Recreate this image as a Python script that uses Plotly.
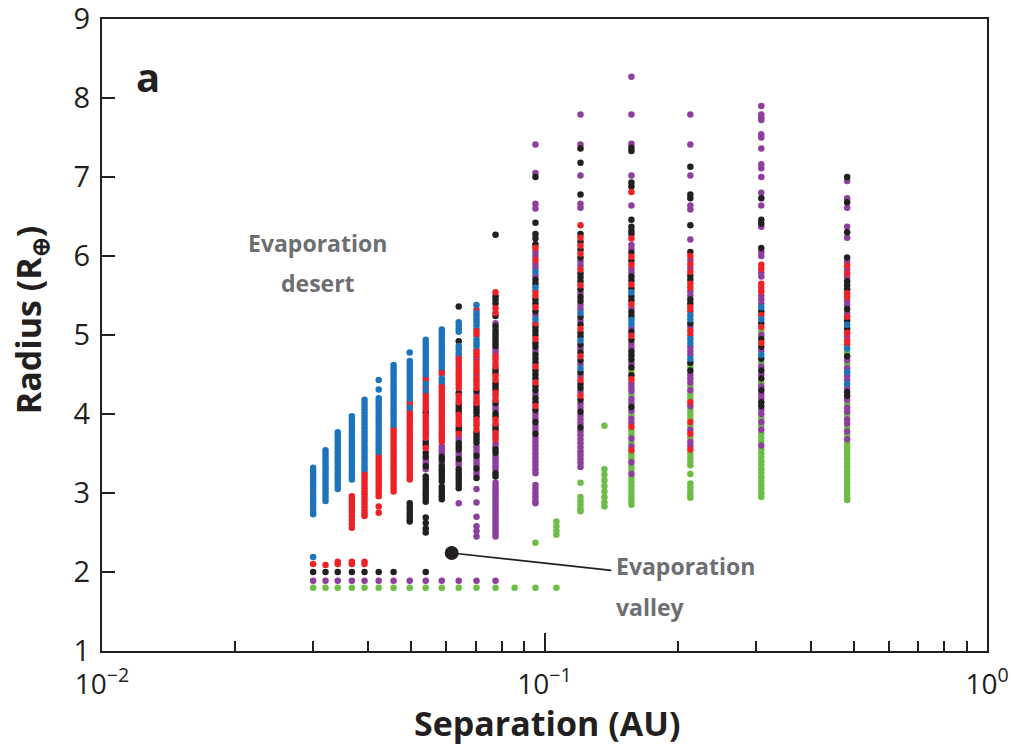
import plotly.graph_objects as go

# Orbital separations (AU) of the simulated columns
SEP = [0.0300, 0.0320, 0.0341, 0.0367, 0.0392, 0.0422, 0.0456, 0.0496, 0.0539, 0.0586, 0.0640,
       0.0702, 0.0775, 0.0856, 0.0954, 0.1064, 0.1206, 0.1366, 0.1572, 0.2136, 0.309, 0.483]

# Radii (Earth radii) per column, one list per colour
BLUE = [
    [3.32, 3.28, 3.24, 3.20, 3.16, 3.12, 3.08, 3.04, 3.00, 2.96, 2.92, 2.88, 2.84, 2.80, 2.76, 2.73, 2.19],
    [3.54, 3.50, 3.46, 3.42, 3.38, 3.34, 3.30, 3.26, 3.22, 3.18, 3.14, 3.10, 3.06, 3.02, 2.98, 2.94, 2.90],
    [3.77, 3.73, 3.69, 3.65, 3.61, 3.57, 3.53, 3.49, 3.45, 3.41, 3.37, 3.33, 3.29, 3.25, 3.21, 3.17, 3.13, 3.09, 3.05],
    [3.97, 3.93, 3.89, 3.85, 3.81, 3.77, 3.73, 3.69, 3.65, 3.61, 3.57, 3.53, 3.49, 3.45, 3.41, 3.37, 3.33, 3.29, 3.25, 3.21, 3.17],
    [4.18, 4.14, 4.10, 4.06, 4.02, 3.98, 3.94, 3.90, 3.86, 3.82, 3.78, 3.74, 3.70, 3.66, 3.62, 3.58, 3.54, 3.50, 3.46, 3.42, 3.38, 3.34, 3.30],
    [4.43, 4.31, 4.20, 4.16, 4.12, 4.08, 4.04, 4.00, 3.96, 3.92, 3.88, 3.84, 3.80, 3.76, 3.72, 3.68, 3.64, 3.60, 3.56, 3.52],
    [4.62, 4.58, 4.54, 4.50, 4.46, 4.42, 4.38, 4.34, 4.30, 4.26, 4.22, 4.18, 4.14, 4.10, 4.06, 4.02, 3.98, 3.94, 3.90, 3.86],
    [4.78, 4.67, 4.63, 4.59, 4.55, 4.51, 4.47, 4.43, 4.39, 4.35, 4.31, 4.27, 4.23, 4.19, 4.08],
    [4.94, 4.90, 4.86, 4.82, 4.78, 4.74, 4.70, 4.66, 4.62, 4.58, 4.54, 4.50, 4.38, 4.30],
    [5.07, 5.03, 4.99, 4.95, 4.91, 4.87, 4.83, 4.79, 4.75, 4.71, 4.67, 4.63, 4.59, 4.45, 4.41],
    [5.16, 5.12, 5.08, 5.04, 4.86, 4.82, 4.77],
    [5.38, 5.28, 5.24, 5.20, 5.16, 5.12, 4.94, 4.90, 4.86],
    [], [],
    [5.80, 5.60, 5.20],
    [],
    [5.28, 4.93, 4.58],
    [],
    [5.54, 5.19, 5.14],
    [5.25, 5.20, 4.95, 4.90, 4.70],
    [5.35, 5.20, 4.75],
    [5.13, 4.83, 4.53, 4.38],
]

RED = [
    [2.10],
    [2.09],
    [2.10, 2.13],
    [2.96, 2.92, 2.88, 2.84, 2.80, 2.76, 2.71, 2.66, 2.61, 2.56, 2.10, 2.13],
    [3.26, 3.22, 3.18, 3.14, 3.10, 3.06, 3.02, 2.98, 2.94, 2.90, 2.86, 2.82, 2.78, 2.74, 2.71, 2.10, 2.13],
    [3.48, 3.44, 3.40, 3.36, 3.32, 3.28, 3.24, 3.20, 3.16, 3.12, 3.08, 3.04, 3.00, 2.96, 2.83, 2.75],
    [3.82, 3.78, 3.74, 3.70, 3.66, 3.62, 3.58, 3.54, 3.50, 3.46, 3.42, 3.38, 3.34, 3.30, 3.26, 3.22, 3.18, 3.14, 3.10, 3.06, 3.02],
    [4.15, 4.11, 4.04, 4.00, 3.96, 3.92, 3.88, 3.84, 3.80, 3.76, 3.72, 3.68, 3.64, 3.60, 3.56, 3.52, 3.48, 3.44, 3.40,
     3.36, 3.32, 3.28, 3.24, 3.20, 3.17],
    [4.46, 4.42, 4.34, 4.26, 4.22, 4.18, 4.14, 4.10, 4.06, 3.98, 3.94, 3.90, 3.86, 3.82, 3.78, 3.74, 3.70, 3.57],
    [4.55, 4.51, 4.37, 4.33, 4.29, 4.25, 4.21, 4.17, 4.13, 4.09, 4.05, 4.01, 3.97, 3.93, 3.89, 3.85, 3.81, 3.77, 3.73, 3.69, 3.65],
    [4.73, 4.69, 4.65, 4.57, 4.53, 4.49, 4.45, 4.41, 4.37, 4.33, 4.23, 4.19, 4.15, 3.99, 3.95, 3.91, 3.87, 3.75],
    [5.32, 5.07, 5.03, 4.99, 4.81, 4.77, 4.73, 4.65, 4.61, 4.57, 4.53, 4.45, 4.41, 4.37, 4.33, 4.21, 4.17, 4.14,
     3.93, 3.89, 3.85, 3.80],
    [5.54, 5.34, 5.28, 4.73, 4.69, 4.64, 4.60, 4.48, 4.43, 4.27, 4.23, 4.18, 3.93, 3.88, 3.76, 3.72, 3.68],
    [],
    [6.10, 5.95, 5.55, 5.50, 5.35, 5.15, 4.95, 4.60, 4.40, 4.10],
    [],
    [6.39, 6.23, 6.13, 6.03, 5.83, 5.63, 5.08, 4.73, 4.43, 4.23],
    [],
    [6.81, 6.22, 5.99, 5.89, 5.64, 5.39, 4.99, 4.44, 3.84, 3.54],
    [6.00, 5.90, 5.80, 5.65, 5.60, 5.35, 5.30, 5.05, 5.00, 4.15, 3.90, 3.75, 3.55],
    [5.89, 5.84, 5.65, 5.60, 5.55, 5.25, 5.10, 4.90],
    [5.88, 5.78, 5.53, 5.48, 5.23, 5.03, 4.93, 4.88],
]

BLACK = [
    [2.00], [2.00], [2.00], [2.00], [2.00], [2.00], [2.00],
    [2.87, 2.83, 2.79, 2.75, 2.71, 2.67, 2.64],
    [4.02, 3.65, 3.61, 3.51, 3.46, 3.34, 3.21, 3.17, 3.13, 3.09, 3.05, 3.01, 2.97, 2.93, 2.89, 2.69, 2.62, 2.55, 2.50, 2.00],
    [3.46, 3.42, 3.34, 3.30, 3.27, 3.23, 3.19, 3.15, 3.08, 3.04, 3.00, 2.96, 2.92],
    [5.36, 4.92, 4.27, 4.11, 4.07, 4.03, 3.83, 3.79, 3.63, 3.59, 3.55, 3.43, 3.30, 3.26, 3.22, 3.18, 3.14, 3.10, 3.06],
    [4.29, 4.10, 4.06, 4.02, 3.97, 3.76, 3.72, 3.68, 3.64, 3.47, 3.31, 3.19],
    [6.27, 5.49, 5.45, 5.40, 5.24, 5.11, 5.06, 5.02, 4.98, 4.94, 4.90, 4.86, 4.56, 4.52, 4.39, 4.35, 4.31, 4.14,
     4.01, 3.97, 3.84, 3.80, 3.55, 3.51, 3.25, 3.21],
    [],
    [7.00, 6.42, 6.28, 6.22, 6.15, 5.70, 5.65, 5.45, 5.40, 5.30, 5.10, 5.05, 5.00, 4.90, 4.85, 4.75, 4.70, 4.65,
     4.55, 4.50, 4.45, 4.35, 4.30, 4.20, 4.15, 4.05, 3.90, 3.75],
    [],
    [7.36, 7.18, 6.78, 6.28, 6.18, 6.08, 5.98, 5.78, 5.73, 5.68, 5.58, 5.48, 5.43, 5.23, 5.13, 5.03, 4.98, 4.88,
     4.78, 4.68, 4.53, 4.38, 4.33, 4.18, 4.03, 3.83],
    [],
    [7.37, 7.33, 6.93, 6.88, 6.46, 6.37, 6.32, 6.28, 6.04, 5.94, 5.74, 5.69, 5.59, 5.49, 5.44, 5.29, 5.24, 5.04,
     4.94, 4.79, 4.74, 4.69, 4.59, 4.49, 4.09],
    [7.13, 6.78, 6.73, 6.39, 6.05, 5.75, 5.70, 5.45, 5.40, 5.15, 4.65, 4.55],
    [6.73, 6.46, 6.41, 6.10, 5.30, 5.15, 4.95, 4.85, 4.70, 4.55, 4.45, 4.30, 4.15, 4.10],
    [7.00, 6.68, 6.30, 5.98, 5.68, 5.63, 5.58, 5.33, 5.18, 5.08, 4.73, 4.28, 4.23],
]

PURPLE = [
    [1.89], [1.89], [1.89], [1.89], [1.89], [1.89], [1.89], [1.89],
    [3.42, 3.38, 3.30, 1.89],
    [3.59, 3.55, 3.51, 3.38, 1.89],
    [4.61, 3.71, 3.67, 3.51, 3.47, 3.39, 3.35, 2.87, 1.89],
    [4.69, 4.49, 4.25, 3.59, 3.55, 3.51, 3.43, 3.39, 3.35, 3.27, 3.23, 3.05, 2.88, 2.70, 2.58, 2.52, 2.45, 1.89],
    [5.15, 4.82, 4.78, 4.10, 4.06, 3.63, 3.59, 3.46, 3.42, 3.38, 3.34, 3.30, 3.13, 3.09, 3.05, 3.01, 2.97, 2.93,
     2.89, 2.85, 2.81, 2.77, 2.73, 2.69, 2.65, 2.61, 2.57, 2.53, 2.49, 2.45, 1.89],
    [],
    [7.41, 7.05, 6.66, 6.60, 6.05, 6.00, 5.90, 5.85, 5.75, 5.25, 4.80, 4.25, 4.00, 3.95, 3.85, 3.80, 3.70, 3.65,
     3.60, 3.55, 3.50, 3.45, 3.40, 3.35, 3.30, 3.25, 3.10, 3.05, 3.00, 2.95, 2.90, 2.87],
    [],
    [7.79, 7.41, 7.02, 6.66, 6.61, 5.93, 5.88, 5.53, 5.38, 5.33, 5.18, 4.83, 4.63, 4.48, 4.28, 4.13, 4.08, 3.98,
     3.93, 3.88, 3.78, 3.73, 3.68, 3.63, 3.58, 3.53, 3.48, 3.43, 3.38, 3.33],
    [],
    [8.27, 7.79, 7.42, 7.02, 6.64, 6.14, 6.09, 5.84, 5.79, 5.34, 5.09, 4.89, 4.84, 4.64, 4.39, 4.34, 4.29, 4.19,
     4.14, 4.04, 3.94, 3.89, 3.69, 3.59, 3.39, 3.24],
    [7.79, 7.41, 7.02, 6.64, 6.59, 6.21, 5.95, 5.85, 5.55, 5.50, 5.10, 4.85, 4.80, 4.75, 4.50, 4.45, 4.40, 4.30,
     4.10, 3.80, 3.65, 3.60],
    [7.90, 7.79, 7.75, 7.72, 7.54, 7.50, 7.36, 7.16, 7.11, 7.00, 6.80, 6.64, 6.37, 6.05, 6.00, 5.79, 5.74, 5.50,
     5.45, 5.40, 5.00, 4.80, 4.60, 4.50, 4.35, 4.25, 4.20, 4.05, 4.00, 3.90, 3.80, 3.60],
    [6.95, 6.73, 6.61, 6.37, 6.23, 5.93, 5.83, 5.73, 5.43, 5.38, 5.28, 4.98, 4.68, 4.58, 4.48, 4.43, 4.33, 4.18,
     4.08, 4.03, 3.93, 3.88, 3.78, 3.68],
]

GREEN = [
    [1.80], [1.80], [1.80], [1.80], [1.80], [1.80], [1.80], [1.80], [1.80], [1.80], [1.80], [1.80], [1.80], [1.80],
    [2.37, 1.80],
    [2.64, 2.58, 2.52, 2.47, 1.80],
    [3.13, 2.95, 2.90, 2.85, 2.80, 2.77],
    [3.85, 3.30, 3.23, 3.16, 3.09, 3.02, 2.95, 2.88, 2.83],
    [4.54, 4.24, 3.99, 3.79, 3.74, 3.64, 3.49, 3.44, 3.34, 3.29, 3.19, 3.14, 3.09, 3.04, 2.99, 2.94, 2.89, 2.85],
    [4.60, 4.35, 4.25, 4.20, 4.05, 4.00, 3.95, 3.85, 3.70, 3.50, 3.45, 3.40, 3.35, 3.24, 3.12, 3.07, 3.02, 2.97, 2.94],
    [5.05, 4.65, 4.40, 3.95, 3.85, 3.75, 3.70, 3.65, 3.55, 3.50, 3.45, 3.40, 3.35, 3.30, 3.25, 3.20, 3.15, 3.10,
     3.05, 3.00, 2.95],
    [4.78, 4.63, 4.13, 3.98, 3.83, 3.73, 3.63, 3.58, 3.53, 3.48, 3.43, 3.38, 3.33, 3.28, 3.23, 3.18, 3.13, 3.08,
     3.03, 2.98, 2.93, 2.91],
]

# Valley pointer: dot and end of the leader line (separation, radius)
VALLEY_PTR_SEP = [0.0617, 0.1416]
VALLEY_PTR_RAD = [2.24, 2.02]

SERIES = [
    ("green", GREEN, "#6cbd45"),
    ("purple", PURPLE, "#8e3f9e"),
    ("black", BLACK, "#231f20"),
    ("red", RED, "#ec2227"),
    ("blue", BLUE, "#1c75bc"),
]

INK = "#231f20"
GREY = "#6d6e71"
FONT = "Open Sans"

fig = go.Figure()
for name, cols, color in SERIES:
    xs, ys = [], []
    for sep, radii in zip(SEP, cols):
        for r in radii:
            xs.append(sep)
            ys.append(r)
    fig.add_trace(go.Scatter(x=xs, y=ys, mode="markers", name=name,
                             marker=dict(size=6.5, color=color, line=dict(width=0)),
                             hoverinfo="skip"))

fig.add_trace(go.Scatter(x=VALLEY_PTR_SEP, y=VALLEY_PTR_RAD, mode="lines",
                         line=dict(color=INK, width=1.6), hoverinfo="skip"))
fig.add_trace(go.Scatter(x=VALLEY_PTR_SEP[:1], y=VALLEY_PTR_RAD[:1], mode="markers",
                         marker=dict(size=14, color=INK), hoverinfo="skip"))

minor_vals = [0.02, 0.03, 0.04, 0.05, 0.06, 0.07, 0.08, 0.09,
              0.2, 0.3, 0.4, 0.5, 0.6, 0.7, 0.8, 0.9]

fig.update_layout(
    width=1015, height=749,
    margin=dict(l=102, r=28, t=19, b=98),
    paper_bgcolor="white", plot_bgcolor="white",
    showlegend=False,
    font=dict(family=FONT, color=INK),
    xaxis=dict(
        type="log", range=[-2, 0], automargin=False,
        tickmode="array", tickvals=[0.01, 0.1, 1],
        ticktext=["10<sup>\u22122</sup>", "10<sup>\u22121</sup>", "10<sup>0</sup>"],
        ticks="inside", ticklen=18, tickwidth=2, tickcolor=INK,
        minor=dict(tickmode="array", tickvals=minor_vals, ticks="inside", ticklen=10,
                   tickwidth=2, tickcolor=INK, showgrid=False),
        showline=True, linewidth=2, linecolor=INK, mirror=True,
        showgrid=False, zeroline=False, ticklabeloverflow="allow", ticklabelstandoff=7,
        tickfont=dict(size=28, color=INK),
    ),
    yaxis=dict(
        range=[1, 9], automargin=False, tickmode="array", tickvals=[1, 2, 3, 4, 5, 6, 7, 8, 9],
        ticks="inside", ticklen=13, tickwidth=2, tickcolor=INK,
        showline=True, linewidth=2, linecolor=INK, mirror=True,
        showgrid=False, zeroline=False, ticklabeloverflow="allow", ticklabelstandoff=4,
        tickfont=dict(size=29, color=INK),
    ),
)

# Axis titles
fig.add_annotation(x=0.503, y=-0.114, xref="paper", yref="paper", xanchor="center", yanchor="middle",
                   text="<b>Separation (AU)</b>", showarrow=False,
                   font=dict(size=34, color=INK, family=FONT))
fig.add_annotation(x=-0.081, y=0.524, xref="paper", yref="paper", xanchor="center", yanchor="middle",
                   text="<b>Radius (R<sub>\u2295</sub>)</b>", showarrow=False, textangle=-90,
                   font=dict(size=34, color=INK, family=FONT))

fig.add_annotation(x=-1.896, y=8.27, xref="x", yref="y", text="<b>a</b>", showarrow=False,
                   font=dict(size=40, color=INK, family=FONT))
fig.add_annotation(x=-1.512, y=6.17, xref="x", yref="y", text="<b>Evaporation</b>", showarrow=False,
                   font=dict(size=23, color=GREY, family=FONT))
fig.add_annotation(x=-1.512, y=5.66, xref="x", yref="y", text="<b>desert</b>", showarrow=False,
                   font=dict(size=23, color=GREY, family=FONT))
fig.add_annotation(x=-0.842, y=2.07, xref="x", yref="y", text="<b>Evaporation</b>", showarrow=False,
                   xanchor="left", font=dict(size=23, color=GREY, family=FONT))
fig.add_annotation(x=-0.842, y=1.56, xref="x", yref="y", text="<b>valley</b>", showarrow=False,
                   xanchor="left", font=dict(size=23, color=GREY, family=FONT))

# remove the default 8px page margin so the figure sits at the window's corner
fig.write_html("out.html", config={"displayModeBar": False},
               post_script="document.body.style.margin='0px';")
